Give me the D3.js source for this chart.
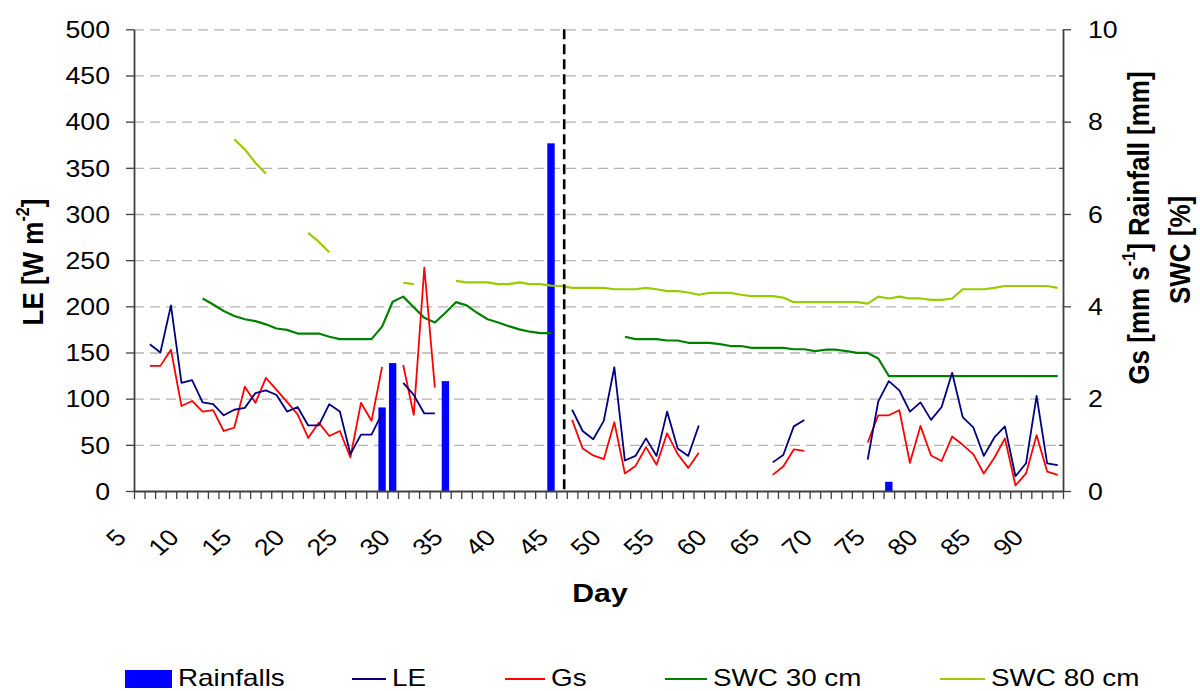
<!DOCTYPE html>
<html>
<head>
<meta charset="utf-8">
<script src="https://cdn.jsdelivr.net/npm/d3@7"></script>
<style>
  body { margin: 0; background: #fff; }
  svg { display: block; font-family: "Liberation Sans", Arial, sans-serif; }
</style>
</head>
<body>
<svg id="chart" width="1200" height="691"></svg>
<script>
// ---- data -------------------------------------------------------------
// day categories on the x axis
const days = [5,6,7,8,9,10,11,12,13,14,15,16,17,18,19,20,21,22,23,24,25,26,27,28,29,30,
  31,32,33,34,35,36,37,38,39,40,41,42,43,44,45,46,47,48,49,50,51,52,53,54,55,56,57,58,59,60,
  61,62,63,64,65,66,67,68,69,70,71,72,73,74,75,76,77,78,79,80,81,82,83,84,85,86,87,88,89,90,91,92];

// latent heat flux, W m-2 (null = no measurement)
const le = [null,
  159,150,201,117,120,96,94,82,88,90,
  106,109,104,86,91,71,71,94,86,40,
  61,61,84,null,117,104,84,84,null,null,
  null,null,null,null,null,null,null,null,null,null,
  88,65,56,76,134,33,38,57,38,86,
  46,38,71,null,null,null,null,null,null,31,
  39,70,77,null,null,null,null,null,34,97,
  119,109,86,96,77,91,128,80,69,38,
  58,70,16,30,103,30,28];

// canopy conductance, mm s-1
const gs = [null,
  2.71,2.71,3.06,1.84,1.95,1.72,1.75,1.30,1.37,2.26,
  1.91,2.45,2.19,1.93,1.66,1.15,1.48,1.19,1.30,0.73,
  1.91,1.52,2.69,null,2.73,1.65,4.84,2.24,null,null,
  null,null,null,null,null,null,null,null,null,null,
  1.54,0.92,0.77,0.69,1.49,0.38,0.54,0.95,0.57,1.25,
  0.80,0.50,0.83,null,null,null,null,null,null,0.35,
  0.53,0.90,0.87,null,null,null,null,null,1.05,1.64,
  1.64,1.75,0.61,1.41,0.77,0.65,1.18,1.00,0.80,0.38,
  0.72,1.14,0.12,0.38,1.21,0.42,0.35];

// soil water content at 30 cm
const swc30 = [null,
  null,null,null,null,null,4.17,4.04,3.90,3.79,3.72,
  3.68,3.61,3.52,3.49,3.41,3.41,3.41,3.34,3.29,3.29,
  3.29,3.29,3.56,4.10,4.21,3.98,3.75,3.65,3.86,4.09,
  4.02,3.86,3.72,3.65,3.57,3.50,3.45,3.42,3.42,null,
  null,null,null,null,null,3.34,3.29,3.29,3.29,3.26,
  3.26,3.21,3.21,3.21,3.18,3.14,3.14,3.10,3.10,3.10,
  3.10,3.07,3.07,3.03,3.06,3.06,3.03,2.99,2.99,2.87,
  2.49,2.49,2.49,2.49,2.49,2.49,2.49,2.49,2.49,2.49,
  2.49,2.49,2.49,2.49,2.49,2.49,2.49];

// soil water content at 80 cm
const swc80 = [null,
  null,null,null,null,null,null,null,null,7.62,7.40,
  7.11,6.87,null,null,null,5.59,5.40,5.17,null,null,
  null,null,null,null,4.51,4.48,null,null,null,4.55,
  4.52,4.52,4.52,4.48,4.48,4.52,4.48,4.48,4.45,4.44,
  4.40,4.40,4.40,4.40,4.37,4.37,4.37,4.40,4.37,4.33,
  4.33,4.30,4.25,4.29,4.29,4.29,4.25,4.22,4.22,4.22,
  4.19,4.09,4.09,4.09,4.09,4.09,4.09,4.09,4.06,4.21,
  4.17,4.21,4.17,4.17,4.14,4.14,4.17,4.37,4.37,4.37,
  4.40,4.44,4.44,4.44,4.44,4.44,4.40];

// rainfall events, mm
const rainDays = [28, 29, 34, 44, 76];
const rainMm   = [1.81, 2.77, 2.38, 7.53, 0.20];

// axis ticks
const leTicks = [0,50,100,150,200,250,300,350,400,450,500];
const rightTicks = [0,2,4,6,8,10];
const rightMinor = [1,3,5,7,9];
const dayLabels = [5,10,15,20,25,30,35,40,45,50,55,60,65,70,75,80,85,90];
const splitDay = 45.25;   // dashed marker between the two periods

const seriesNames = ["Rainfalls", "LE", "Gs", "SWC 30 cm", "SWC 80 cm"];
const seriesColors = ["#0000ff", "#000080", "#ff0000", "#008000", "#99cc00"];

// ---- layout -----------------------------------------------------------
const X0 = 134, X1 = 1063, Y0 = 491, Y1 = 29.3;
const SX = 1.16;                 // horizontal glyph stretch
const tickFont = 23, titleFont = 26, legendFont = 24;
const axisColor = "#404040";

const svg = d3.select("#chart");

const x = d3.scaleLinear()
  .domain([days[0] - 0.5, days[days.length - 1] + 0.5])
  .range([X0, X1]);
const yL = d3.scaleLinear().domain([0, 500]).range([Y0, Y1]);
const yR = d3.scaleLinear().domain([0, 10]).range([Y0, Y1]);

// horizontal gridlines
svg.append("g")
  .attr("transform", `translate(${X0},0)`)
  .call(d3.axisLeft(yL).tickValues(leTicks.slice(1)).tickSize(-(X1 - X0)).tickFormat(""))
  .call(g => g.select(".domain").remove())
  .call(g => g.selectAll(".tick line")
    .attr("stroke", "#b4b4b4").attr("stroke-width", 1.3).attr("stroke-dasharray", "10,6"));

// rainfall bars (right axis)
const step = x(1) - x(0);
const barW = step * 0.7;
svg.append("g").selectAll("rect")
  .data(rainDays.map((d, i) => ({ d, v: rainMm[i] })))
  .join("rect")
  .attr("x", p => x(p.d) - barW / 2)
  .attr("width", barW)
  .attr("y", p => yR(p.v))
  .attr("height", p => yR(0) - yR(p.v))
  .attr("fill", seriesColors[0]);

// line series
function drawLine(values, scale, color, width) {
  const pts = days.map((d, i) => ({ d, v: values[i] }));
  const line = d3.line()
    .defined(p => p.v !== null)
    .x(p => x(p.d))
    .y(p => scale(p.v));
  svg.append("path")
    .datum(pts)
    .attr("fill", "none")
    .attr("stroke", color)
    .attr("stroke-width", width)
    .attr("stroke-linejoin", "round")
    .attr("d", line);
}
drawLine(swc80, yR, seriesColors[4], 2.2);
drawLine(swc30, yR, seriesColors[3], 2.2);
drawLine(gs, yR, seriesColors[2], 1.8);
drawLine(le, yL, seriesColors[1], 1.8);

// dashed period marker
svg.append("line")
  .attr("x1", x(splitDay)).attr("x2", x(splitDay))
  .attr("y1", yL(500)).attr("y2", Y0)
  .attr("stroke", "#000").attr("stroke-width", 2.6)
  .attr("stroke-dasharray", "10,5");

// ---- axes -------------------------------------------------------------
function styleAxis(g) {
  g.select(".domain").attr("stroke", axisColor).attr("stroke-width", 1.8);
  g.selectAll(".tick line").attr("stroke", axisColor).attr("stroke-width", 1.3);
}

// left axis
svg.append("g")
  .attr("transform", `translate(${X0},0)`)
  .call(d3.axisLeft(yL).tickValues(leTicks).tickSize(8).tickSizeOuter(0))
  .call(styleAxis)
  .call(g => g.selectAll(".tick text")
    .attr("x", 0).attr("dy", "0.36em")
    .attr("text-anchor", "end")
    .attr("transform", `translate(-24,0) scale(${SX},1)`)
    .attr("font-size", tickFont).attr("fill", "#000")
    .attr("font-family", "Liberation Sans, Arial, sans-serif"));

// right axis: major ticks outside with labels
svg.append("g")
  .attr("transform", `translate(${X1},0)`)
  .call(d3.axisRight(yR).tickValues(rightTicks).tickSize(8).tickSizeOuter(0))
  .call(styleAxis)
  .call(g => g.selectAll(".tick text")
    .attr("x", 0).attr("dy", "0.36em")
    .attr("text-anchor", "start")
    .attr("transform", `translate(25,0) scale(${SX},1)`)
    .attr("font-size", tickFont).attr("fill", "#000")
    .attr("font-family", "Liberation Sans, Arial, sans-serif"));

// right axis: minor ticks inside
svg.append("g")
  .attr("transform", `translate(${X1},0)`)
  .call(d3.axisRight(yR).tickValues(rightMinor).tickSize(-4).tickFormat(""))
  .call(g => g.select(".domain").remove())
  .call(g => g.selectAll(".tick line").attr("stroke", axisColor).attr("stroke-width", 1.2));

// bottom axis: tick mark at each day boundary
const boundaries = days.map(d => d - 0.5).concat([days[days.length - 1] + 0.5]);
svg.append("g")
  .attr("transform", `translate(0,${Y0})`)
  .call(d3.axisBottom(x).tickValues(boundaries).tickSize(8).tickSizeOuter(0).tickFormat(""))
  .call(styleAxis);

// bottom axis: rotated day labels
svg.append("g")
  .attr("transform", `translate(0,${Y0})`)
  .call(d3.axisBottom(x).tickValues(dayLabels).tickSize(0).tickFormat(d3.format("d")))
  .call(g => g.select(".domain").remove())
  .call(g => g.selectAll(".tick text")
    .attr("x", 0).attr("y", 0).attr("dy", 0)
    .attr("text-anchor", "end")
    .attr("transform", `translate(-12,48) scale(${SX},1) rotate(-45)`)
    .attr("font-size", tickFont).attr("fill", "#000")
    .attr("font-family", "Liberation Sans, Arial, sans-serif"));

// ---- titles -----------------------------------------------------------
const leTitle = svg.append("text")
  .attr("transform", `translate(43,262) scale(${SX},1) rotate(-90)`)
  .attr("text-anchor", "middle")
  .attr("font-size", titleFont).attr("font-weight", "bold");
leTitle.append("tspan").text("LE [W m");
leTitle.append("tspan").attr("font-size", titleFont * 0.62).attr("dy", "-0.75em").text("-2");
leTitle.append("tspan").attr("dy", "0.47em").text("]");

svg.append("text")
  .attr("transform", `translate(600,602) scale(${SX},1)`)
  .attr("text-anchor", "middle")
  .attr("font-size", titleFont).attr("font-weight", "bold")
  .text("Day");

const rTitle = svg.append("text")
  .attr("transform", `translate(1149,228) scale(${SX},1) rotate(-90)`)
  .attr("text-anchor", "middle")
  .attr("font-size", titleFont).attr("font-weight", "bold");
rTitle.append("tspan").text("Gs [mm s");
rTitle.append("tspan").attr("font-size", titleFont * 0.62).attr("dy", "-0.75em").text("-1");
rTitle.append("tspan").attr("dy", "0.47em").text("] Rainfall [mm]");

svg.append("text")
  .attr("transform", `translate(1190,250) scale(${SX},1) rotate(-90)`)
  .attr("text-anchor", "middle")
  .attr("font-size", titleFont).attr("font-weight", "bold")
  .text("SWC [%]");

// ---- legend -----------------------------------------------------------
const legendX = [125, 352, 505, 665, 940];
const legendSym = [47, 34, 40, 42, 45];
const legendY = 679;
const legend = svg.append("g");
seriesNames.forEach((name, i) => {
  const lx = legendX[i];
  if (i === 0) {
    legend.append("rect")
      .attr("x", lx).attr("y", legendY - 9).attr("width", legendSym[i]).attr("height", 18)
      .attr("fill", seriesColors[i]);
  } else {
    legend.append("line")
      .attr("x1", lx).attr("x2", lx + legendSym[i])
      .attr("y1", legendY).attr("y2", legendY)
      .attr("stroke", seriesColors[i]).attr("stroke-width", 2.2);
  }
  legend.append("text")
    .attr("transform", `translate(${lx + legendSym[i] + 6},685.5) scale(${SX},1)`)
    .attr("font-size", legendFont)
    .text(name);
});
</script>
</body>
</html>
